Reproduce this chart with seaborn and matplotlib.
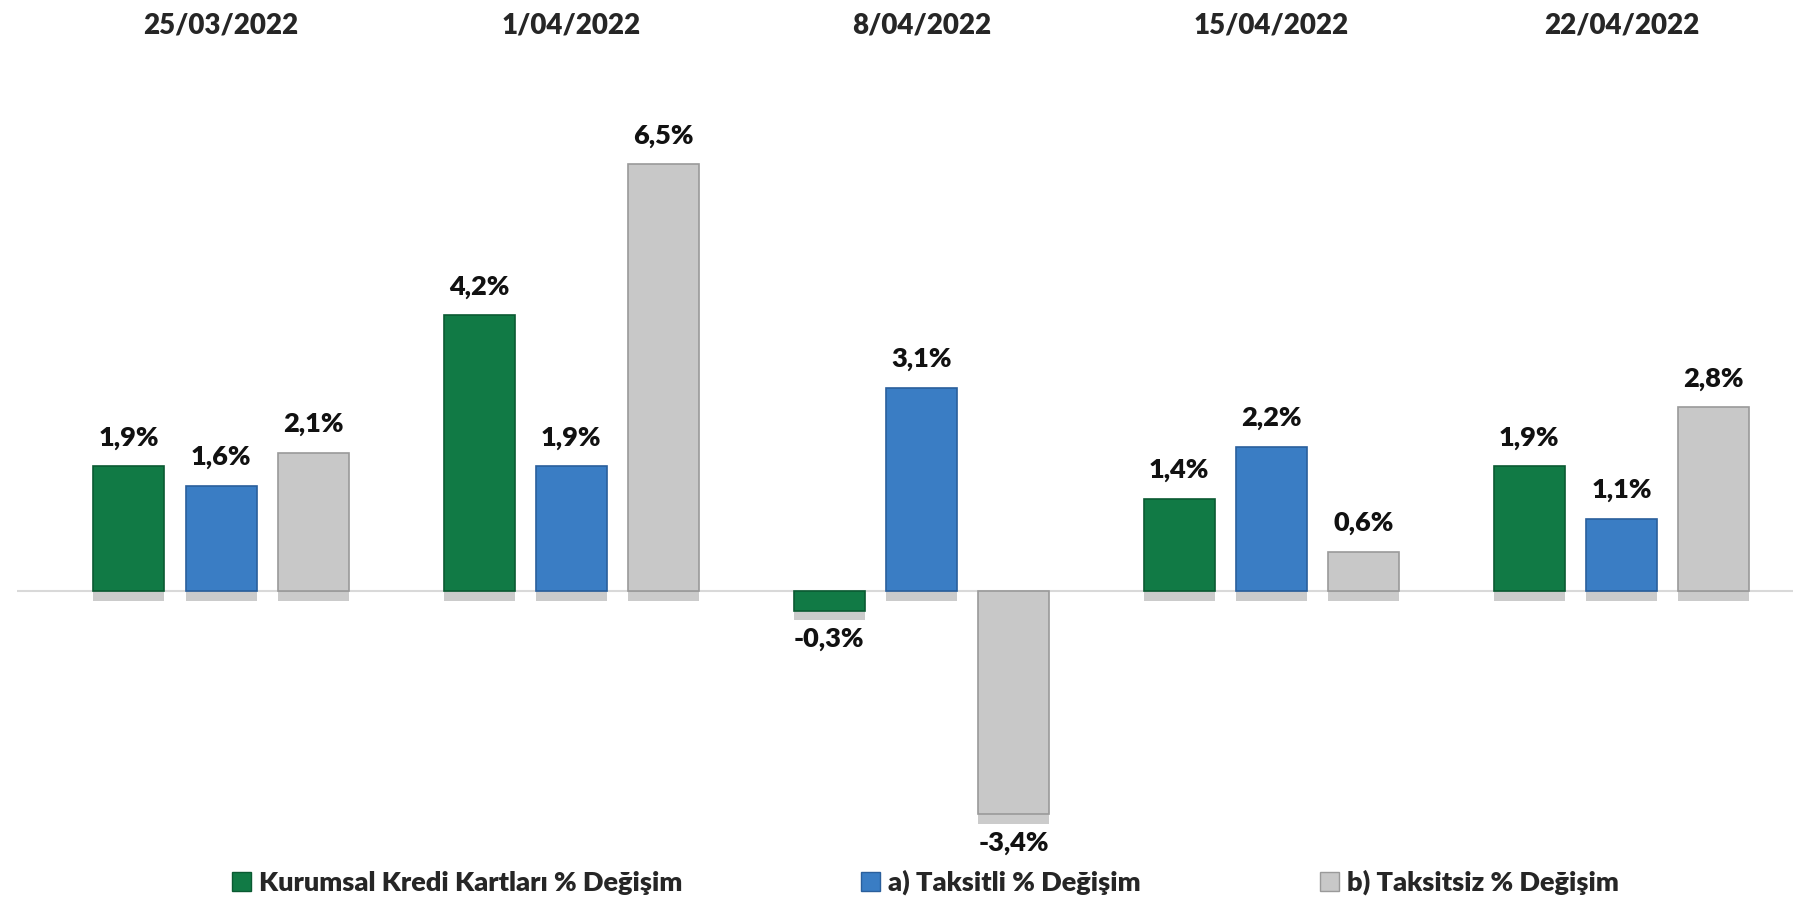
import seaborn as sns
import pandas as pd
import matplotlib.pyplot as plt
import matplotlib.patheffects as pe
from matplotlib.transforms import blended_transform_factory

dates = ['25/03/2022', '1/04/2022', '8/04/2022', '15/04/2022', '22/04/2022']
series = ['Kurumsal Kredi Kartları % Değişim', 'a) Taksitli % Değişim', 'b) Taksitsiz % Değişim']
kurumsal = [1.9, 4.2, -0.3, 1.4, 1.9]
taksitli = [1.6, 1.9, 3.1, 2.2, 1.1]
taksitsiz = [2.1, 6.5, -3.4, 0.6, 2.8]
colors = ['#117a45', '#3a7dc4', '#c8c8c8']
edges = ['#0a5a32', '#2a5f9c', '#9a9a9a']

df = pd.DataFrame({
    'date': dates * 3,
    'series': [series[0]] * 5 + [series[1]] * 5 + [series[2]] * 5,
    'value': kurumsal + taksitli + taksitsiz,
})

sns.set_style('white')
plt.rcParams['font.family'] = ['Lato', 'DejaVu Sans']
plt.rcParams['font.weight'] = 'heavy'

fig = plt.figure(figsize=(17.93, 9.06), dpi=100)
ax = fig.add_axes([0.0095, 0.058, 0.9905, 0.833])

sns.barplot(data=df, x='date', y='value', hue='series', order=dates, hue_order=series,
            palette=colors, width=0.79, gap=0.23, ax=ax, legend=True, saturation=1)

# soft shadow under each bar, like the excel bevel look
shadow = [pe.SimplePatchShadow(offset=(0, -7), alpha=0.25, shadow_rgbFace='#333333'), pe.Normal()]
for cont, ec in zip(ax.containers, edges):
    for bar in cont:
        bar.set_edgecolor(ec)
        bar.set_linewidth(1.2)
        bar.set_path_effects(shadow)
    labels = [f'{v:.1f}%'.replace('.', ',') for v in cont.datavalues]
    ax.bar_label(cont, labels=labels, padding=12, fontsize=19.5, fontweight='heavy', color='#111111')

ax.axhline(0, color='#d9d9d9', lw=1.5, zorder=0)
ax.set_ylim(-4, 7.5)
ax.set_xlim(-0.583, 4.49)
ax.set_yticks([])
ax.set_xlabel('')
ax.set_ylabel('')
for s in ax.spines.values():
    s.set_visible(False)

ax.set_xticks([])
trans = blended_transform_factory(ax.transData, fig.transFigure)
for i, d in enumerate(dates):
    ax.text(i, 0.972, d, transform=trans, ha='center', va='center', fontsize=20, fontweight='heavy')

ax.get_legend().remove()
handles = [plt.Rectangle((0, 0), 1, 1, facecolor=c, edgecolor=e) for c, e in zip(colors, edges)]
fig.legend(handles, series, loc='center', bbox_to_anchor=(0.516, 0.026), ncol=3, frameon=False,
           handlelength=0.7, handleheight=0.7, handletextpad=0.3, columnspacing=6.6,
           prop={'weight': 'heavy', 'size': 19.5})

fig.savefig('out.png', dpi=100)
